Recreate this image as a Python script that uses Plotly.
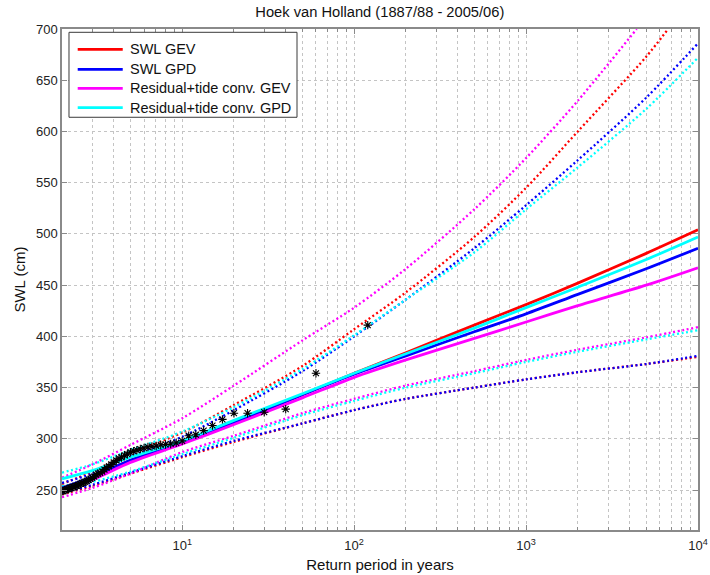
import plotly.graph_objects as go

# Return periods (years) at which the fitted curves are tabulated
T_fit = [2, 3, 5, 10, 20, 50, 100, 200, 500, 1000, 2000, 5000, 10000]

# Fitted return levels, SWL (cm)
swl_gev = [250, 262, 279, 296, 316, 343, 364, 384, 411, 431, 452, 481, 504]
swl_gpd = [252, 263, 279, 296, 316, 343, 363, 381, 404.5, 422, 441, 466, 486]
res_gev = [250, 260, 277, 295, 314, 340, 360, 377, 398, 414, 430, 450, 467]
res_gpd = [261, 269, 282, 298, 318, 344, 364, 383, 408, 428, 448, 475, 497]

# Upper confidence limits (curves leaving the top edge end where they cross 700 cm)
T_swl_gev_up = [2, 3, 5, 10, 20, 50, 100, 200, 500, 1000, 2000, 5000, 6700]
swl_gev_up = [256, 268, 286, 306, 333, 371, 407, 443, 497, 545, 600, 673, 700]
T_res_gev_up = [2, 3, 5, 10, 20, 50, 100, 200, 500, 1000, 2000, 4400]
res_gev_up = [262, 275, 294, 320, 352, 396, 428, 466, 524, 574, 630, 700]
swl_gpd_up = [257, 266, 283, 302, 328, 366, 400, 436, 486, 528, 572, 633, 686]
res_gpd_up = [267, 275, 289, 307, 331, 368, 401, 436, 482, 524, 565, 622, 672]

# Lower confidence limits
swl_gev_lo = [246, 254, 266, 282, 297, 315, 328, 339, 350, 358, 365, 373, 380]
swl_gpd_lo = [247, 255, 267, 283, 298, 315, 328, 339, 350, 358, 365, 373, 381]
res_gev_lo = [243, 252, 266, 287, 303, 325, 339, 352, 366, 377, 387, 399, 409]
res_gpd_lo = [254, 258, 268, 285, 301, 323, 337, 350, 364, 375, 385, 397, 406]

# Annual maxima: empirical return period (years) and SWL (cm)
T_obs = [120.0, 60.0, 40.0, 30.0, 24.0, 20.0, 17.14, 15.0, 13.33, 12.0,
         10.91, 10.0, 9.23, 8.57, 8.0, 7.5, 7.06, 6.67, 6.32, 6.0,
         5.71, 5.45, 5.22, 5.0, 4.8, 4.62, 4.44, 4.29, 4.14, 4.0,
         3.87, 3.75, 3.64, 3.53, 3.43, 3.33, 3.24, 3.16, 3.08, 3.0,
         2.93, 2.86, 2.79, 2.73, 2.67, 2.61, 2.55, 2.5, 2.45, 2.4,
         2.35, 2.31, 2.26, 2.22, 2.18, 2.14, 2.11, 2.07, 2.03, 2.0]
swl_obs = [411, 364, 329, 326, 325, 325, 319, 313, 308, 304,
           303, 298, 296, 295, 294.5, 294, 293, 292.5, 292, 291,
           290, 289, 288, 287, 285, 284, 282, 281, 279, 277,
           275, 273, 272, 270, 268, 267, 266, 265, 263, 262,
           261, 260, 259, 258, 257, 257, 256, 255, 254, 254,
           253, 253, 252, 252, 251, 251, 250, 250, 249, 249]

x_ticks = [10, 100, 1000, 10000]
x_ticktext = ["10<sup>1</sup>", "10<sup>2</sup>", "10<sup>3</sup>", "10<sup>4</sup>"]
x_minor = [m * 10 ** e for e in range(0, 4) for m in range(2, 10)]
y_ticks = [250, 300, 350, 400, 450, 500, 550, 600, 650, 700]

series_names = ["SWL GEV", "SWL GPD", "Residual+tide conv. GEV", "Residual+tide conv. GPD"]

RED, BLUE, MAG, CYAN = "#ff0000", "#0000ff", "#ff00ff", "#00ffff"
colors = [RED, BLUE, MAG, CYAN]
DOT = "2px,2.6px"

fig = go.Figure()


def curve(x, y, color, dotted, name=None):
    fig.add_trace(go.Scatter(
        x=x, y=y, mode="lines", name=name, showlegend=False,
        hoverinfo="skip" if dotted else None,
        line=dict(color=color, width=2.3 if dotted else 2.8,
                  dash=DOT if dotted else "solid",
                  shape="spline", smoothing=0.8)))


# confidence limits (dotted)
curve(T_fit, swl_gev_lo, RED, True)
curve(T_fit, swl_gpd_lo, BLUE, True)
curve(T_fit, res_gev_lo, MAG, True)
curve(T_fit, res_gpd_lo, CYAN, True)
curve(T_swl_gev_up, swl_gev_up, RED, True)
curve(T_fit, swl_gpd_up, BLUE, True)
curve(T_res_gev_up, res_gev_up, MAG, True)
curve(T_fit, res_gpd_up, CYAN, True)

# fitted return level curves
for name, vals, color in zip(series_names, [swl_gev, swl_gpd, res_gev, res_gpd], colors):
    curve(T_fit, vals, color, False, name)

# observed annual maxima
fig.add_trace(go.Scatter(x=T_obs, y=swl_obs, mode="markers", showlegend=False,
                         marker=dict(symbol="asterisk-open", size=7,
                                     color="black",
                                     line=dict(color="black", width=1.1))))

# legend box drawn in paper coordinates
shapes = [dict(type="rect", xref="paper", yref="paper",
               x0=0.0110, x1=0.3695, y0=0.8238, y1=0.9934,
               line=dict(color="#3a3a3a", width=1), fillcolor="white",
               layer="above")]
annotations = []
row_y = [0.9595, 0.9196, 0.8816, 0.8429]
for name, color, yy in zip(series_names, colors, row_y):
    shapes.append(dict(type="line", xref="paper", yref="paper",
                       x0=0.0247, x1=0.0955, y0=yy, y1=yy,
                       line=dict(color=color, width=2.8), layer="above"))
    annotations.append(dict(text=name, xref="paper", yref="paper",
                            x=0.1030, y=yy, xanchor="left", yanchor="middle",
                            showarrow=False, font=dict(size=14.5, color="#111111")))

GRID = "#c4c4c4"
AXIS = "#8a8a8a"
fig.update_layout(
    width=710, height=575,
    margin=dict(l=62, r=12, t=29, b=45, autoexpand=False),
    paper_bgcolor="white", plot_bgcolor="white",
    font=dict(family="Liberation Sans, Arial, sans-serif", size=13,
              color="#222222"),
    title=dict(text="Hoek van Holland (1887/88 - 2005/06)", x=0.535,
               xanchor="center", y=0.979, yanchor="middle",
               font=dict(size=14.7, color="#111111")),
    showlegend=False,
    shapes=shapes,
    annotations=annotations,
)
fig.update_xaxes(
    type="log", range=[0.30103, 4], tickmode="array",
    tickvals=x_ticks, ticktext=x_ticktext, automargin=False,
    ticks="inside", ticklen=5, tickcolor=AXIS, ticklabelstandoff=3,
    showline=True, linecolor=AXIS, linewidth=1.5, mirror="ticks",
    showgrid=True, gridcolor=GRID, griddash="dot", gridwidth=1,
    minor=dict(tickmode="array", tickvals=x_minor, ticks="inside", ticklen=3,
               tickcolor=AXIS, showgrid=True, gridcolor=GRID, griddash="dot",
               gridwidth=1),
    zeroline=False,
    title=dict(text="Return period in years", standoff=7,
               font=dict(size=15, color="#111111")),
)
fig.update_yaxes(
    range=[211, 700], tickmode="array", tickvals=y_ticks, automargin=False,
    ticks="inside", ticklen=5, tickcolor=AXIS,
    showline=True, linecolor=AXIS, linewidth=1.5, mirror="ticks",
    showgrid=True, gridcolor=GRID, griddash="dot", gridwidth=1,
    zeroline=False,
    title=dict(text="SWL (cm)", standoff=7,
               font=dict(size=15, color="#111111")),
)

fig.write_html("out.html")
